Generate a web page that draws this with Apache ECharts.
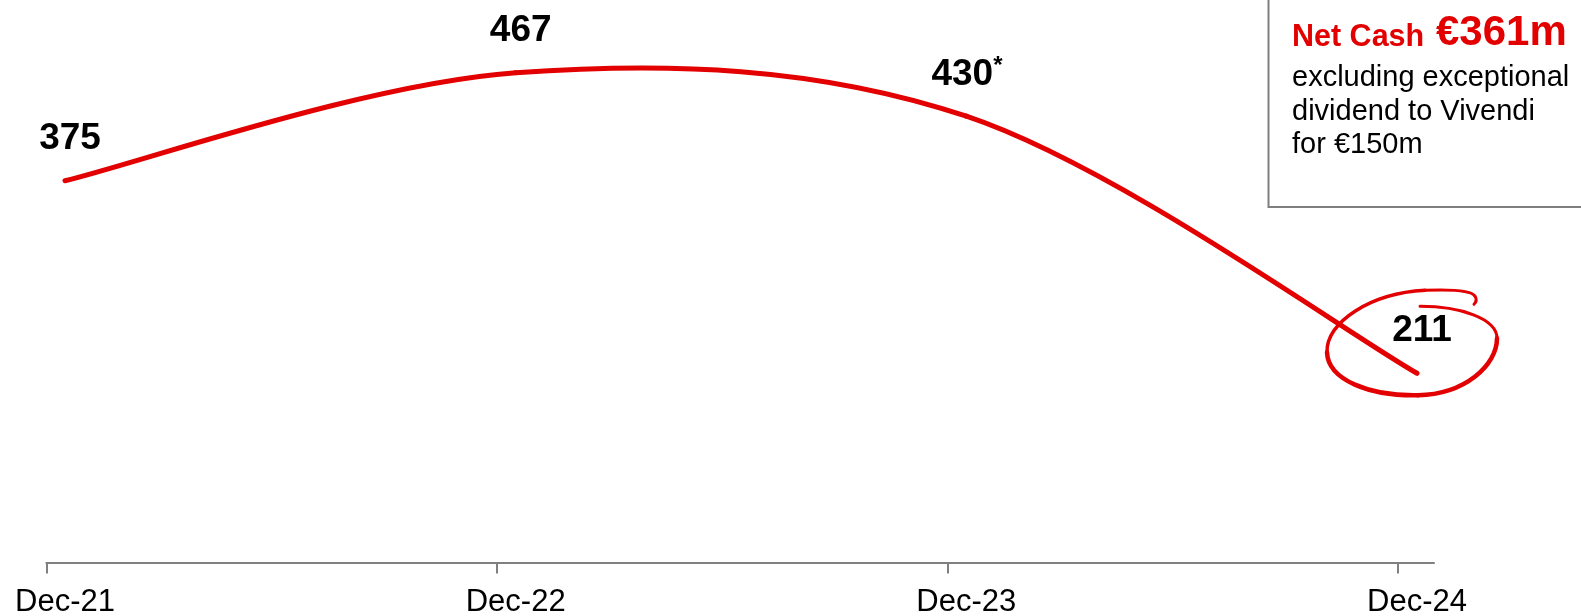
<!DOCTYPE html>
<html>
<head>
<meta charset="utf-8">
<style>
  html, body { margin: 0; padding: 0; background: #ffffff; }
  #chart { width: 1581px; height: 616px; }
</style>
<script src="https://cdn.jsdelivr.net/npm/echarts@6/dist/echarts.min.js"></script>
</head>
<body>
<div id="chart"></div>
<script>
// Net cash position at each year end (€m)
const categories = ['Dec-21', 'Dec-22', 'Dec-23', 'Dec-24'];
const netCash = [375, 467, 430, 211];
const footnoted = ['Dec-23'];          // values carrying an asterisk
const highlighted = ['Dec-24'];        // value ringed in red
const tickPositions = [0, 1, 2, 3];

// Call-out box text
const boxHeadline = 'Net Cash';
const boxAmount = '€361m';
const boxLines = ['excluding exceptional', 'dividend to Vivendi', 'for €150m'];

const FONT = '"Liberation Sans", Arial, Helvetica, sans-serif';
const RED = '#e30000';
const LABEL_FONT = 'bold 37px ' + FONT;

// Hand-drawn ring, as cubic segments relative to the ringed point
const RING_START = [3, -67];
const RING_SEGMENTS = [
  [43, -67, 80, -55, 80, -35],
  [80, -8, 48, 21, 1, 22],
  [-47, 23, -89, 7, -90, -21],
  [-91, -51, -47, -80, 8, -83],
  [33, -84, 55, -83, 58, -77],
  [60, -74, 59, -71, 57, -69]
];
const RING_WIDTHS = [3, 4.5, 4.5, 3.5, 3, 3];

function ringChildren(px, py) {
  const out = [];
  let [sx, sy] = RING_START;
  RING_SEGMENTS.forEach((s, k) => {
    out.push({
      type: 'bezierCurve', z2: 1,
      shape: { x1: px + sx, y1: py + sy, cpx1: px + s[0], cpy1: py + s[1],
               cpx2: px + s[2], cpy2: py + s[3], x2: px + s[4], y2: py + s[5] },
      style: { stroke: RED, lineWidth: RING_WIDTHS[k], fill: 'none', lineCap: 'round' }
    });
    sx = s[4]; sy = s[5];
  });
  return out;
}

// Smooth curve through the yearly values (cardinal spline, tension 1/6),
// one segment per data item, plus the value label at each point.
function renderNetCash(params, api) {
  const i = params.dataIndex;
  const n = netCash.length;
  const pts = netCash.map((v, j) => api.coord([j, v]));
  const children = [];

  if (highlighted.includes(categories[i])) {
    children.push(...ringChildren(pts[i][0], pts[i][1]));
  }

  if (i < n - 1) {
    const p0 = pts[Math.max(i - 1, 0)], p1 = pts[i], p2 = pts[i + 1], p3 = pts[Math.min(i + 2, n - 1)];
    children.push({
      type: 'bezierCurve', z2: 2,
      shape: {
        x1: p1[0], y1: p1[1], x2: p2[0], y2: p2[1],
        cpx1: p1[0] + (p2[0] - p0[0]) / 6, cpy1: p1[1] + (p2[1] - p0[1]) / 6,
        cpx2: p2[0] - (p3[0] - p1[0]) / 6, cpy2: p2[1] - (p3[1] - p1[1]) / 6
      },
      style: { stroke: RED, lineWidth: 5, fill: 'none', lineCap: 'round' }
    });
  }

  const [x, y] = pts[i];
  if (footnoted.includes(categories[i])) {
    children.push({
      type: 'text', z2: 5, x: x - 4, y: y - 41,
      style: { text: String(netCash[i]), font: LABEL_FONT, fill: '#000', align: 'center', verticalAlign: 'middle' }
    });
    children.push({
      type: 'text', z2: 5, x: x + 27, y: y - 62,
      style: { text: '*', font: 'bold 24px ' + FONT, fill: '#000', align: 'left', verticalAlign: 'top' }
    });
  } else {
    children.push({
      type: 'text', z2: 5, x: x + 5, y: y - 42,
      style: { text: String(netCash[i]), font: LABEL_FONT, fill: '#000', align: 'center', verticalAlign: 'middle' }
    });
  }
  return { type: 'group', children };
}

const chart = echarts.init(document.getElementById('chart'), null, { renderer: 'canvas' });

chart.setOption({
  backgroundColor: '#ffffff',
  animation: false,
  grid: [
    // grid carrying the date axis line and ticks
    { left: 46.4, right: 147, top: 34, bottom: 53.5, outerBoundsMode: 'none', containLabel: false },
    // grid carrying the net-cash curve and the date labels
    { left: 65, right: 164, top: 34, bottom: 53.7, outerBoundsMode: 'none', containLabel: false }
  ],
  xAxis: [
    {
      type: 'value', gridIndex: 0, min: 0, max: 3.08, interval: 1,
      axisLine: { show: true, lineStyle: { color: '#808080', width: 2 } },
      axisTick: { show: true, length: 11, customValues: tickPositions,
                  lineStyle: { color: '#808080', width: 2 } },
      axisLabel: { show: false },
      splitLine: { show: false }
    },
    {
      type: 'category', gridIndex: 1, data: categories, boundaryGap: false,
      axisLine: { show: false },
      axisTick: { show: false },
      axisLabel: { show: true, interval: 0, margin: 25, color: '#000', fontFamily: FONT, fontSize: 31 },
      splitLine: { show: false }
    }
  ],
  yAxis: [
    { type: 'value', gridIndex: 0, min: 50, max: 500, show: false },
    { type: 'value', gridIndex: 1, min: 50, max: 500, show: false }
  ],
  series: [
    {
      type: 'custom', name: 'Net cash',
      coordinateSystem: 'cartesian2d', xAxisIndex: 1, yAxisIndex: 1,
      data: netCash.map((v, i) => [i, v]),
      renderItem: renderNetCash,
      clip: false,
      z: 3
    }
  ],
  graphic: [
    {
      type: 'rect', z: 10,
      shape: { x: 1268.5, y: -5, width: 330, height: 212 },
      style: { fill: '#ffffff', stroke: '#7f7f7f', lineWidth: 2 }
    },
    {
      type: 'text', z: 11, x: 1292, y: 37.6,
      style: { text: boxHeadline, font: 'bold 30.5px ' + FONT, fill: RED, verticalAlign: 'middle' }
    },
    {
      type: 'text', z: 11, x: 1436, y: 33.6,
      style: { text: boxAmount, font: 'bold 42px ' + FONT, fill: RED, verticalAlign: 'middle' }
    }
  ].concat(boxLines.map((t, i) => ({
    type: 'text', z: 11, x: 1292, y: 78 + i * 33.5,
    style: { text: t, font: '29px ' + FONT, fill: '#000', verticalAlign: 'middle' }
  })))
});
</script>
</body>
</html>
